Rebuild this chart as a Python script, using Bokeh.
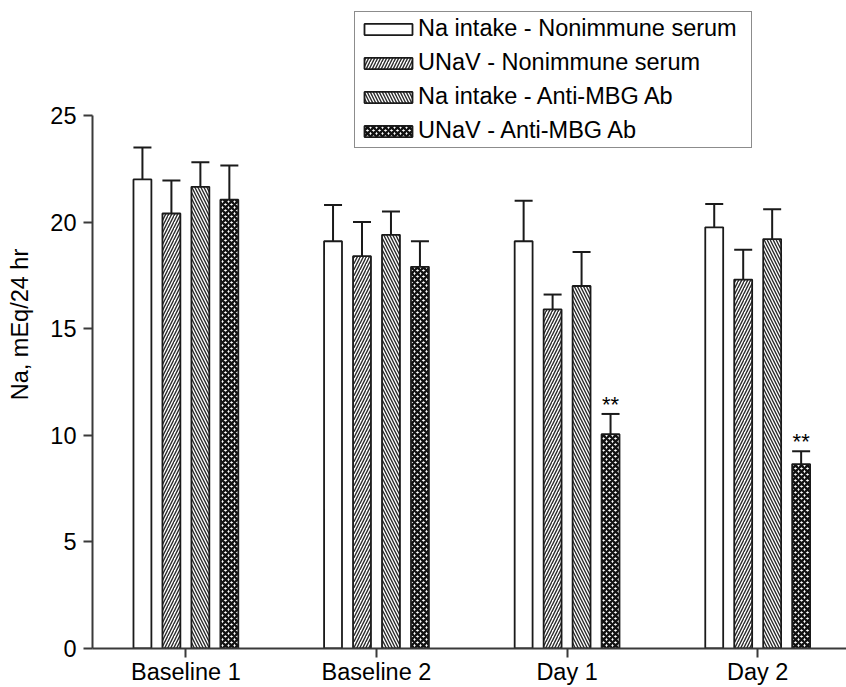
import numpy as np
from bokeh.plotting import figure
from bokeh.models import (Range1d, FixedTicker, Whisker, TeeHead, ColumnDataSource,
                          Legend, LegendItem)
from bokeh.embed import file_html
from bokeh.resources import INLINE
from bokeh.core.properties import value

# ---- data ----
categories = ["Baseline 1", "Baseline 2", "Day 1", "Day 2"]
series_names = ["Na intake - Nonimmune serum", "UNaV - Nonimmune serum",
                "Na intake - Anti-MBG Ab", "UNaV - Anti-MBG Ab"]
na_intake_nonimmune = [22.0, 19.1, 19.1, 19.75]
unav_nonimmune = [20.4, 18.4, 15.9, 17.3]
na_intake_antimbg = [21.65, 19.4, 17.0, 19.2]
unav_antimbg = [21.05, 17.9, 10.05, 8.65]
err_na_intake_nonimmune = [1.5, 1.7, 1.9, 1.1]
err_unav_nonimmune = [1.55, 1.6, 0.7, 1.4]
err_na_intake_antimbg = [1.15, 1.1, 1.6, 1.4]
err_unav_antimbg = [1.6, 1.2, 0.95, 0.6]
significance = ["", "", "**", "**"]

series_values = [na_intake_nonimmune, unav_nonimmune, na_intake_antimbg, unav_antimbg]
series_errors = [err_na_intake_nonimmune, err_unav_nonimmune, err_na_intake_antimbg, err_unav_antimbg]

FONT = "Liberation Sans"
FS = "23.5px"

p = figure(width=846, height=687, output_backend="svg", toolbar_location=None,
           x_range=Range1d(0.51, 4.466), y_range=Range1d(0, 30.39),
           min_border_left=92, min_border_right=0, min_border_top=0, min_border_bottom=39)
p.outline_line_color = None
p.xgrid.visible = False
p.ygrid.visible = False
p.background_fill_color = "white"
p.border_fill_color = "white"

styles = [
    dict(hatch_pattern=None),
    dict(hatch_pattern="/", hatch_scale=6, hatch_weight=1.4, hatch_color="#2a2a2a"),
    dict(hatch_pattern="\\", hatch_scale=6, hatch_weight=1.4, hatch_color="#2a2a2a"),
    dict(hatch_pattern="x", hatch_scale=6, hatch_weight=2.3, hatch_color="#111111"),
]

bar_w = 0.094
step = 0.152
offsets = (np.arange(4) - 1.5) * step
xc = np.arange(1, len(categories) + 1)

items = []
for i, (name, vals, errs) in enumerate(zip(series_names, series_values, series_errors)):
    xs = xc + offsets[i]
    vals = np.array(vals)
    tops = vals + np.array(errs)
    src = ColumnDataSource(dict(x=xs, top=vals, upper=tops))
    st = {k: v for k, v in styles[i].items() if v is not None}
    r = p.vbar(x="x", top="top", width=bar_w, source=src, fill_color="white",
               line_color="#1a1a1a", line_width=1.8, **st)
    w = Whisker(base="x", lower="top", upper="upper", source=src, dimension="height",
                line_color="#1a1a1a", line_width=2.0, lower_head=None,
                upper_head=TeeHead(size=18, line_color="#1a1a1a", line_width=2.0))
    p.add_layout(w)
    items.append(LegendItem(label=name, renderers=[r]))
    if i == 3:
        txt = ColumnDataSource(dict(x=xs, y=tops + 0.45, t=significance))
        p.text(x="x", y="y", text="t", source=txt, text_align="center",
               text_baseline="alphabetic", text_font=value(FONT),
               text_font_size="22px", text_color="black")

legend = Legend(items=items, location=(262, 500), orientation="vertical")
legend.label_text_font = FONT
legend.label_text_font_size = FS
legend.label_text_color = "black"
legend.glyph_width = 60
legend.glyph_height = 14
legend.label_standoff = 0
legend.label_width = 330
legend.padding = 3
legend.spacing = 7
legend.margin = 0
legend.border_line_color = "#1a1a1a"
legend.border_line_width = 1.8
legend.background_fill_alpha = 1
p.add_layout(legend, "center")

# axes
for ax in (p.xaxis[0], p.yaxis[0]):
    ax.axis_line_color = "#3a3a3a"
    ax.axis_line_width = 2
    ax.major_tick_line_color = "#3a3a3a"
    ax.major_tick_line_width = 2
    ax.major_tick_in = 0
    ax.major_tick_out = 9
    ax.minor_tick_line_color = None
    ax.major_label_text_font = FONT
    ax.major_label_text_font_size = FS
    ax.major_label_text_color = "black"

p.xaxis.ticker = FixedTicker(ticks=list(xc))
p.xaxis.major_label_overrides = {int(k): c for k, c in zip(xc, categories)}
p.xaxis.major_label_standoff = 1

p.yaxis.ticker = FixedTicker(ticks=[0, 5, 10, 15, 20, 25])
p.yaxis.bounds = (0, 25)
p.yaxis.major_label_standoff = 7
p.yaxis.axis_label = "Na, mEq/24 hr"
p.yaxis.axis_label_text_font = FONT
p.yaxis.axis_label_text_font_size = FS
p.yaxis.axis_label_text_font_style = "normal"
p.yaxis.axis_label_text_color = "black"
p.yaxis.axis_label_standoff = 14

open("out.html", "w").write(file_html(p, INLINE))
